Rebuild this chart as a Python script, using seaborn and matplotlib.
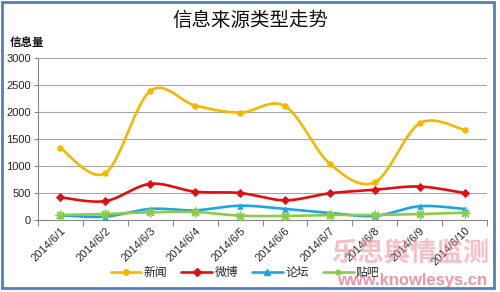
import numpy as np
import pandas as pd
import matplotlib
matplotlib.use("Agg")
import matplotlib.pyplot as plt
import seaborn as sns
from matplotlib.lines import Line2D
from matplotlib.patches import Rectangle

dates = ["2014/6/1", "2014/6/2", "2014/6/3", "2014/6/4", "2014/6/5",
         "2014/6/6", "2014/6/7", "2014/6/8", "2014/6/9", "2014/6/10"]
xinwen = [1330, 870, 2390, 2120, 1990, 2110, 1040, 700, 1790, 1670]
weibo = [420, 350, 670, 525, 500, 365, 495, 560, 620, 500]
luntan = [87, 62, 205, 180, 265, 205, 130, 74, 255, 205]
tieba = [93, 110, 142, 148, 80, 74, 93, 93, 110, 135]
series_names = ["新闻", "微博", "论坛", "贴吧"]
y_ticks = [0, 500, 1000, 1500, 2000, 2500, 3000]

colors = ["#F5B800", "#E01010", "#1AA7E0", "#8CCB4A"]
markers = ["o", "D", "^", (8, 2, 0)]

sns.set_theme(style="white")
plt.rcParams['font.family'] = ['Noto Sans CJK SC', 'DejaVu Sans']

fig = plt.figure(figsize=(5.0, 2.92), dpi=100)
ax = fig.add_axes([0.076, 0.2466, 0.898, 0.5548])

df = pd.DataFrame({"date": dates, "新闻": xinwen, "微博": weibo, "论坛": luntan, "贴吧": tieba})
long = df.melt(id_vars="date", var_name="series", value_name="value")
long["x"] = long["date"].map({d: i for i, d in enumerate(dates)})


def smooth(xs, ys, n=30):
    xs = np.asarray(xs, float)
    ys = np.asarray(ys, float)
    pts = np.column_stack([xs, ys])
    out = []
    m = len(pts)
    for i in range(m - 1):
        p0 = pts[max(i - 1, 0)]
        p1 = pts[i]
        p2 = pts[i + 1]
        p3 = pts[min(i + 2, m - 1)]
        c1 = p1 + (p2 - p0) / 6.0
        c2 = p2 - (p3 - p1) / 6.0
        t = np.linspace(0, 1, n)[:, None]
        seg = ((1 - t) ** 3) * p1 + 3 * ((1 - t) ** 2) * t * c1 + 3 * (1 - t) * t ** 2 * c2 + t ** 3 * p2
        out.append(seg if i == 0 else seg[1:])
    out = np.vstack(out)
    return out[:, 0], out[:, 1]


handles = []
for name, col, mk in zip(series_names, colors, markers):
    sub = long[long["series"] == name]
    sx, sy = smooth(sub["x"], sub["value"])
    ax.plot(sx, sy, color=col, lw=1.9, zorder=3, solid_capstyle="round")
    ms = 22 if mk != (8, 2, 0) else 40
    sns.scatterplot(x=sub["x"], y=sub["value"], ax=ax, color=col, marker=mk,
                    s=ms, linewidth=1.0 if mk == (8, 2, 0) else 0, edgecolor=col, zorder=4, legend=False)
    handles.append(Line2D([0], [0], color=col, lw=1.9, marker=mk, markersize=4,
                          markeredgecolor=col, markeredgewidth=1.0))

ax.set_xlim(-0.5, len(dates) - 0.5)
ax.set_ylim(0, 3000)
ax.set_yticks(y_ticks)
ax.set_yticklabels([str(v) for v in y_ticks], fontsize=8, family=['Liberation Sans', 'DejaVu Sans'])
ax.set_xticks(range(len(dates)))
ax.set_xticklabels(dates, rotation=45, ha="right", rotation_mode="anchor", fontsize=8,
                   family=['Liberation Sans', 'DejaVu Sans'])
ax.set_xticks(np.arange(-0.5, len(dates), 1.0), minor=True)
ax.tick_params(axis="x", which="major", length=0, pad=4)
ax.tick_params(axis="x", which="minor", length=4, color="#888888", width=0.8, direction="out")
ax.tick_params(axis="y", length=3, color="#888888", width=0.8, direction="out", pad=2)
ax.xaxis.set_ticks_position("bottom")
ax.yaxis.set_ticks_position("left")
ax.grid(axis="y", color="#A6A6A6", lw=0.8)
ax.set_axisbelow(True)
for s in ["top", "right"]:
    ax.spines[s].set_visible(False)
for s in ["left", "bottom"]:
    ax.spines[s].set_color("#888888")
    ax.spines[s].set_linewidth(0.8)
ax.set_xlabel("")
ax.set_ylabel("")

fig.text(0.5, 0.93, "信息来源类型走势", ha="center", va="center", fontsize=14, fontweight="medium",
         color="#111111")
fig.text(0.02, 0.855, "信息量", ha="left", va="center", fontsize=8.3, fontweight="bold", color="#111111")

leg = fig.legend(handles, series_names, loc="center", bbox_to_anchor=(0.49, 0.068), ncol=4,
                 frameon=False, fontsize=8.5, handlelength=2.6, handletextpad=0.2, columnspacing=1.2)

fig.text(0.82, 0.13, "乐思舆情监测", ha="center", va="center", fontsize=19, fontweight="bold",
         color="#F08C96", alpha=0.55)
fig.text(0.825, 0.04, "www.knowlesys.cn", ha="center", va="center", fontsize=12, fontweight="bold",
         color="#E0506A", alpha=0.6, family=['Liberation Sans', 'DejaVu Sans'])

fig.patches.append(Rectangle((0.004, 0.012), 0.984, 0.98, transform=fig.transFigure, fill=False,
                             edgecolor="#4F81BD", lw=2.0))

fig.savefig("out.png", dpi=100)
